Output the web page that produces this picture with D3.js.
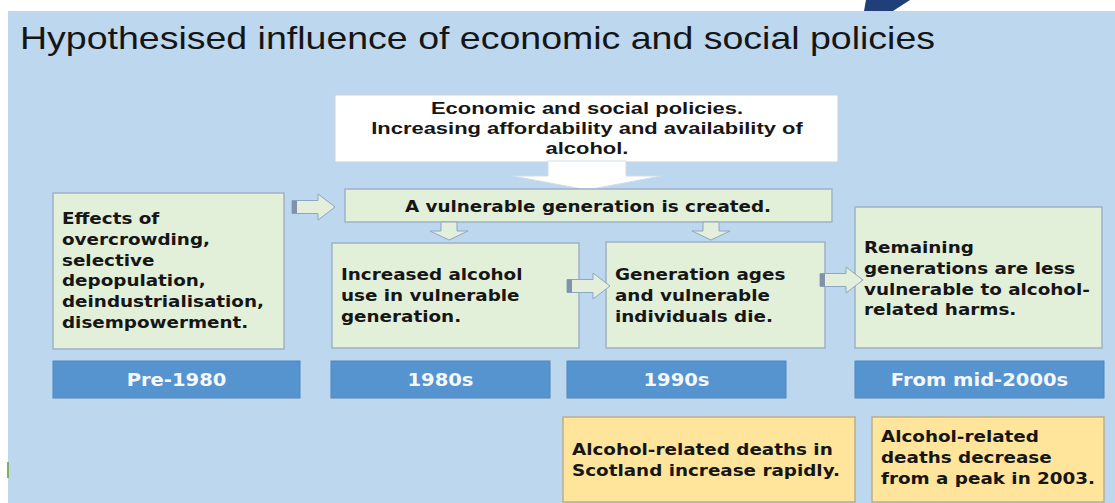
<!DOCTYPE html>
<html>
<head>
<meta charset="utf-8">
<script src="https://cdn.jsdelivr.net/npm/d3@7"></script>
<style>
  html, body { margin: 0; padding: 0; background: #ffffff; }
  svg { display: block; }
</style>
</head>
<body>
<div id="chart"></div>
<script>
// Texts of the diagram
var titleText = "Hypothesised influence of economic and social policies";
var policyLines = ["Economic and social policies.", "Increasing affordability and availability of", "alcohol."];
var generationText = "A vulnerable generation is created.";
var periods = ["Pre-1980", "1980s", "1990s", "From mid-2000s"];
var stageLines = [
  ["Effects of", "overcrowding,", "selective", "depopulation,", "deindustrialisation,", "disempowerment."],
  ["Increased alcohol", "use in vulnerable", "generation."],
  ["Generation ages", "and vulnerable", "individuals die."],
  ["Remaining", "generations are less", "vulnerable to alcohol-", "related harms."]
];
var outcomeLines = [
  ["Alcohol-related deaths in", "Scotland increase rapidly."],
  ["Alcohol-related", "deaths decrease", "from a peak in 2003."]
];

// Layout (pixels). The slide is stretched sideways, so text is stretched too.
var width = 1115, height = 503;
var SX = 1.23;
var LH = 20.8;
var stageBoxes = [
  {x: 53,  y: 193, w: 231, h: 156, ty: 224},
  {x: 332, y: 243, w: 247, h: 105, ty: 280},
  {x: 606, y: 242, w: 219, h: 106, ty: 280},
  {x: 855, y: 207, w: 247, h: 141, ty: 253}
];
var periodBars = [
  {x: 53,  w: 247},
  {x: 331, w: 219},
  {x: 567, w: 219},
  {x: 855, w: 249}
];
var outcomeBoxes = [
  {x: 563, y: 417, w: 292, h: 85, ty: 455},
  {x: 872, y: 417, w: 232, h: 85, ty: 442}
];
var sideArrows = [
  {x: 292, cy: 207},
  {x: 567, cy: 286},
  {x: 820, cy: 280}
];
var downArrows = [449, 711];

var svg = d3.select("#chart").append("svg")
  .attr("width", width)
  .attr("height", height)
  .attr("viewBox", "0,0," + width + "," + height);

// light blue slide panel
svg.append("rect").attr("x", 8).attr("y", 11).attr("width", width - 8).attr("height", height - 11)
  .attr("fill", "#bdd7ee");

// dark swoosh at top edge
svg.append("path").attr("d", "M866,0 L910,0 L893,11 L864,11 Z").attr("fill", "#203f78");
svg.append("rect").attr("x", 7).attr("y", 462).attr("width", 2).attr("height", 16).attr("fill", "#7fb35a");

// Title
svg.append("text")
  .attr("transform", "translate(20,49) scale(" + SX + ",1)")
  .attr("font-family", "'Liberation Sans', Arial, sans-serif")
  .attr("font-size", 30.5)
  .attr("fill", "#151515")
  .text(titleText);

// helper to write lines of stretched text
function writeLines(g, lines, x, y0, opt) {
  g.selectAll(null)
    .data(lines)
    .enter()
    .append("text")
    .attr("transform", function(d, i) { return "translate(" + x + "," + (y0 + i * opt.lh) + ") scale(" + opt.sx + ",1)"; })
    .attr("font-family", opt.family)
    .attr("font-size", opt.size)
    .attr("font-weight", "bold")
    .attr("text-anchor", opt.anchor || "start")
    .attr("fill", opt.color || "#161616")
    .text(function(d) { return d; });
}
var bodyFont = {family: "'DejaVu Sans', Verdana, sans-serif", size: 15.3, sx: 1.2, lh: LH};

// Top white policy box
svg.append("rect").attr("x", 335).attr("y", 95).attr("width", 503).attr("height", 67)
  .attr("fill", "#ffffff").attr("stroke", "#c9d3dc").attr("stroke-width", 1);
writeLines(svg.append("g"), policyLines, 587, 114, {family: "'Liberation Sans', Arial, sans-serif", size: 16.5, sx: 1.33, lh: 20, anchor: "middle"});

// Big white arrow down from policy box
svg.append("path")
  .attr("d", "M548,161 L626,161 L626,176 L661,176 L587,190 L513,176 L548,176 Z")
  .attr("fill", "#ffffff").attr("stroke", "#d3dde6").attr("stroke-width", 1);

// Vulnerable generation box
svg.append("rect").attr("x", 345).attr("y", 189).attr("width", 487).attr("height", 33)
  .attr("fill", "#e2efd9").attr("stroke", "#9fb2c6").attr("stroke-width", 1.5);
writeLines(svg.append("g"), [generationText], 588, 212, Object.assign({}, bodyFont, {anchor: "middle"}));

// Stage boxes
var stages = svg.selectAll(".stage")
  .data(stageLines)
  .enter()
  .append("g")
  .attr("class", "stage");
stages.append("rect")
  .attr("x", function(d, i) { return stageBoxes[i].x; })
  .attr("y", function(d, i) { return stageBoxes[i].y; })
  .attr("width", function(d, i) { return stageBoxes[i].w; })
  .attr("height", function(d, i) { return stageBoxes[i].h; })
  .attr("fill", "#e2efd9")
  .attr("stroke", "#9fb2c6")
  .attr("stroke-width", 1.5);
stages.each(function(d, i) {
  writeLines(d3.select(this), d, stageBoxes[i].x + 9, stageBoxes[i].ty, bodyFont);
});

// Period bars
var bars = svg.selectAll(".period")
  .data(periods)
  .enter()
  .append("g")
  .attr("class", "period");
bars.append("rect")
  .attr("x", function(d, i) { return periodBars[i].x; })
  .attr("y", 361)
  .attr("width", function(d, i) { return periodBars[i].w; })
  .attr("height", 37)
  .attr("fill", "#5694d0")
  .attr("stroke", "#4f86bd")
  .attr("stroke-width", 1);
bars.append("text")
  .attr("transform", function(d, i) { return "translate(" + (periodBars[i].x + periodBars[i].w / 2) + ",386) scale(1.15,1)"; })
  .attr("font-family", "'DejaVu Sans', Verdana, sans-serif")
  .attr("font-size", 17)
  .attr("font-weight", "bold")
  .attr("text-anchor", "middle")
  .attr("fill", "#f4f8fc")
  .text(function(d) { return d; });

// Outcome (yellow) boxes
var outcomes = svg.selectAll(".outcome")
  .data(outcomeLines)
  .enter()
  .append("g")
  .attr("class", "outcome");
outcomes.append("rect")
  .attr("x", function(d, i) { return outcomeBoxes[i].x; })
  .attr("y", function(d, i) { return outcomeBoxes[i].y; })
  .attr("width", function(d, i) { return outcomeBoxes[i].w; })
  .attr("height", function(d, i) { return outcomeBoxes[i].h; })
  .attr("fill", "#ffe59b")
  .attr("stroke", "#b9ad8e")
  .attr("stroke-width", 1.5);
outcomes.each(function(d, i) {
  writeLines(d3.select(this), d, outcomeBoxes[i].x + 9, outcomeBoxes[i].ty, bodyFont);
});

// Block arrows
function sideArrowPath(x, cy) {
  var len = 43, sh = 13, hh = 26, hl = 17;
  return "M" + x + "," + (cy - sh / 2) + " L" + (x + len - hl) + "," + (cy - sh / 2) +
    " L" + (x + len - hl) + "," + (cy - hh / 2) + " L" + (x + len) + "," + cy +
    " L" + (x + len - hl) + "," + (cy + hh / 2) + " L" + (x + len - hl) + "," + (cy + sh / 2) +
    " L" + x + "," + (cy + sh / 2) + " Z";
}
function downArrowPath(cx, y) {
  var len = 18, sw = 16, hw = 38, hl = 9;
  return "M" + (cx - sw / 2) + "," + y + " L" + (cx + sw / 2) + "," + y +
    " L" + (cx + sw / 2) + "," + (y + len - hl) + " L" + (cx + hw / 2) + "," + (y + len - hl) +
    " L" + cx + "," + (y + len) + " L" + (cx - hw / 2) + "," + (y + len - hl) +
    " L" + (cx - sw / 2) + "," + (y + len - hl) + " Z";
}
var sideG = svg.selectAll(".side-arrow")
  .data(sideArrows)
  .enter()
  .append("g")
  .attr("class", "side-arrow");
sideG.append("path")
  .attr("d", function(d) { return sideArrowPath(d.x, d.cy); })
  .attr("fill", "#e3efda")
  .attr("stroke", "#8fa6c2")
  .attr("stroke-width", 1);
sideG.append("rect")
  .attr("x", function(d) { return d.x; })
  .attr("y", function(d) { return d.cy - 6.5; })
  .attr("width", 5)
  .attr("height", 13)
  .attr("fill", "#8193ab");

svg.selectAll(".down-arrow")
  .data(downArrows)
  .enter()
  .append("path")
  .attr("class", "down-arrow")
  .attr("d", function(d) { return downArrowPath(d, 222); })
  .attr("fill", "#e3efda")
  .attr("stroke", "#8fa6c2")
  .attr("stroke-width", 1);
</script>
</body>
</html>
